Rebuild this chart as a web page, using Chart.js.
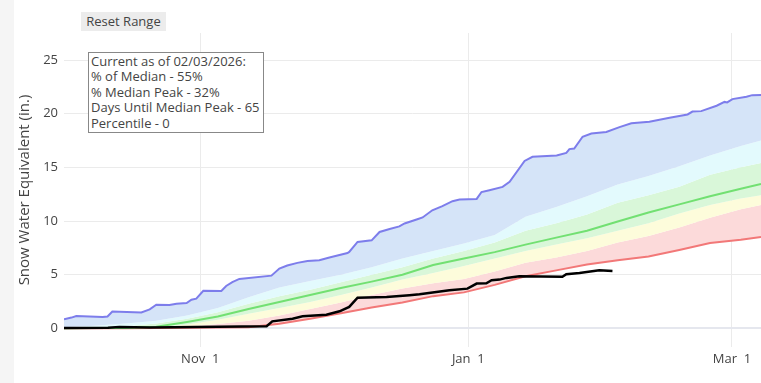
<!DOCTYPE html>
<html>
<head>
<meta charset="utf-8">
<script src="https://cdn.jsdelivr.net/npm/chart.js@4.4.1/dist/chart.umd.min.js"></script>
<style>
    body { margin: 0; background: #fff; }
    #wrap { position: relative; width: 761px; height: 383px; overflow: hidden; background: #fff; }
    #strip { position: absolute; left: 0; top: 0; width: 14px; height: 383px; background: #f5f5f5; }
    #myChart { position: absolute; left: 0; top: 0; }
    #reset {
        position: absolute; left: 81px; top: 12px; width: 85px; height: 19px;
        background: #ececec; color: #444; font: 13px 'Open Sans', sans-serif;
        line-height: 19px; text-align: center;
    }
    #info {
        position: absolute; left: 88px; top: 52px; width: 170px; height: 78px;
        border: 1px solid #888; background: #fff; padding: 1px 2px 0 2px;
        font: 13px 'Open Sans', sans-serif; line-height: 15.4px; color: #444; white-space: nowrap;
    }
</style>
</head>
<body>
<div id="wrap">
    <div id="strip"></div>
    <canvas id="myChart" width="761" height="383"></canvas>
    <div id="reset">Reset Range</div>
    <div id="info"></div>
</div>
<script>
// days since Oct 1 (leap-year axis), SWE in inches
const bandDays = [0, 7, 14, 21, 28, 35, 42, 49, 56, 63, 70, 77, 84, 91, 98, 105, 112, 119, 126, 133, 140, 147, 154, 158.6];
const p90 = [0.1, 0.25, 0.45, 0.7, 1.2, 1.9, 2.9, 3.8, 4.4, 5.0, 5.7, 6.5, 7.2, 7.9, 8.7, 10.4, 11.3, 12.3, 13.4, 14.2, 15.1, 16.1, 17.0, 17.5];
const p70 = [0.02, 0.08, 0.2, 0.45, 0.9, 1.5, 2.3, 3.0, 3.6, 4.3, 5.0, 5.7, 6.5, 7.2, 8.0, 9.1, 9.8, 10.6, 11.7, 12.4, 13.2, 14.3, 15.0, 15.4];
const median = [0.0, 0.02, 0.04, 0.15, 0.6, 1.1, 1.8, 2.45, 3.1, 3.75, 4.35, 5.0, 5.9, 6.5, 7.1, 7.8, 8.45, 9.1, 9.95, 10.8, 11.55, 12.3, 13.0, 13.45];
const p30 = [0, 0, 0.02, 0.08, 0.35, 0.8, 1.35, 1.9, 2.45, 3.1, 3.8, 4.55, 5.15, 5.8, 6.5, 7.2, 7.8, 8.4, 9.1, 9.8, 10.7, 11.5, 12.1, 12.4];
const p10 = [0, 0, 0, 0.03, 0.15, 0.4, 0.7, 1.2, 1.8, 2.4, 3.1, 3.7, 4.2, 4.6, 5.3, 6.1, 6.6, 7.2, 8.0, 8.6, 9.4, 10.3, 11.1, 11.5];
const minSwe = [0, 0, 0, 0.02, 0.05, 0.08, 0.1, 0.43, 0.9, 1.4, 1.95, 2.4, 3.0, 3.35, 4.05, 4.85, 5.4, 5.95, 6.35, 6.7, 7.3, 7.95, 8.25, 8.5];

const maxDays = [0, 1.7, 2.8, 8.8, 9.9, 11, 17.6, 19.5, 21, 24, 25.6, 27.9, 29, 30.1, 31.7, 35.8, 36.9, 38.3, 39.9,
    47.2, 49, 50.8, 53.1, 55.4, 58.1, 60.4, 64.5, 64.9, 66.8, 70, 71.8, 74.1, 76.3, 77.5, 80.4, 81.6, 83.8, 86.1,
    88.4, 90, 93.9, 95, 96.8, 99.8, 101.4, 104.8, 106.6, 112.1, 114.3, 115, 116.1, 118, 120, 123.4, 126.4, 129.1,
    133.2, 137.8, 141.9, 143, 145, 148.5, 150.3, 150.9, 152.1, 155.3, 156.6, 158.6];
const maxSwe = [0.84, 1.0, 1.15, 1.05, 1.1, 1.56, 1.48, 1.77, 2.2, 2.17, 2.3, 2.36, 2.67, 2.77, 3.5, 3.48, 3.95, 4.3, 4.6,
    4.91, 5.57, 5.85, 6.1, 6.28, 6.34, 6.6, 7.02, 7.12, 8.05, 8.2, 8.98, 9.26, 9.5, 9.77, 10.17, 10.33, 11.0, 11.38,
    11.85, 12.0, 12.06, 12.7, 12.87, 13.18, 13.65, 15.6, 15.98, 16.1, 16.35, 16.7, 16.76, 17.85, 18.16, 18.3, 18.75, 19.1,
    19.25, 19.62, 19.93, 20.2, 20.24, 20.74, 21.1, 21.05, 21.36, 21.58, 21.73, 21.75];

const currentDays = [0, 10, 12.6, 19.5, 25, 35, 46.1, 47.4, 52, 54.3, 59.7, 62.7, 64.9, 66.8, 73.4, 78.6, 80.9, 87.7,
    91.8, 93.9, 96.1, 97.3, 99.1, 100.7, 103.6, 113.4, 114.3, 117.3, 121.8, 124.8];
const currentSwe = [0.03, 0.05, 0.12, 0.08, 0.1, 0.15, 0.19, 0.65, 0.9, 1.12, 1.27, 1.59, 2.0, 2.86, 2.92, 3.08, 3.17, 3.54,
    3.7, 4.17, 4.2, 4.48, 4.54, 4.7, 4.85, 4.8, 5.04, 5.16, 5.41, 5.35];

const tickDays = [31, 92, 152];
const tickLabels = ['Nov  1', 'Jan  1', 'Mar  1'];
const yTicks = [0, 5, 10, 15, 20, 25];

const infoLines = [
    'Current as of 02/03/2026:',
    '% of Median - 55%',
    '% Median Peak - 32%',
    'Days Until Median Peak - 65',
    'Percentile - 0'
];
document.getElementById('info').innerHTML = infoLines.join('<br>');

// junta dias e valores em pontos {x, y}
function toPoints(days, vals) {
    return days.map((d, i) => ({ x: d, y: vals[i] }));
}

const tickFont = { family: 'Open Sans', size: 13 };
const noLine = 'rgba(0,0,0,0)';

const ctx = document.getElementById('myChart').getContext('2d');
const myChart = new Chart(ctx, {
    type: 'line',
    data: {
        datasets: [
            { label: 'WY2026', data: toPoints(currentDays, currentSwe), borderColor: '#000', borderWidth: 2.5, fill: false },
            { label: 'Median', data: toPoints(bandDays, median), borderColor: '#72e072', borderWidth: 2, fill: false },
            { label: 'Max', data: toPoints(maxDays, maxSwe), borderColor: '#7d7deb', borderWidth: 2, fill: 4, backgroundColor: '#d5e4f8' },
            { label: 'Min', data: toPoints(bandDays, minSwe), borderColor: '#f27878', borderWidth: 2, fill: false },
            { label: '90%', data: toPoints(bandDays, p90), borderColor: noLine, borderWidth: 0, fill: 5, backgroundColor: '#e3fafd' },
            { label: '70%', data: toPoints(bandDays, p70), borderColor: noLine, borderWidth: 0, fill: 6, backgroundColor: '#d9f7d9' },
            { label: '30%', data: toPoints(bandDays, p30), borderColor: noLine, borderWidth: 0, fill: 7, backgroundColor: '#fdfcdb' },
            { label: '10%', data: toPoints(bandDays, p10), borderColor: noLine, borderWidth: 0, fill: 3, backgroundColor: '#fcdada' }
        ]
    },
    options: {
        responsive: false,
        animation: false,
        layout: { padding: { top: 33, right: 0, bottom: 0, left: 0 } },
        elements: { point: { radius: 0 }, line: { tension: 0 } },
        plugins: { legend: { display: false }, tooltip: { enabled: false } },
        scales: {
            x: {
                type: 'linear',
                min: 0,
                max: 158.6,
                afterBuildTicks: axis => { axis.ticks = tickDays.map(v => ({ value: v })); },
                afterFit: axis => { axis.height = 36; },
                grid: { color: '#ebebeb', drawTicks: false },
                border: { display: false },
                ticks: {
                    padding: 4, color: '#444', font: tickFont, autoSkip: false, maxRotation: 0,
                    callback: value => tickLabels[tickDays.indexOf(value)]
                }
            },
            y: {
                min: -1.74,
                max: 27.52,
                afterBuildTicks: axis => { axis.ticks = yTicks.map(v => ({ value: v })); },
                afterFit: axis => { axis.width = 64; },
                grid: {
                    color: c => c.tick && c.tick.value === 0 ? '#e5e7ee' : '#ebebeb',
                    lineWidth: c => c.tick && c.tick.value === 0 ? 2 : 1,
                    drawTicks: false
                },
                border: { display: false },
                ticks: { padding: 6, color: '#444', font: tickFont },
                title: {
                    display: true,
                    text: 'Snow Water Equivalent (in.)',
                    color: '#444',
                    font: { family: 'Open Sans', size: 15 },
                    padding: { top: 16, bottom: 0 }
                }
            }
        }
    }
});
</script>
</body>
</html>
